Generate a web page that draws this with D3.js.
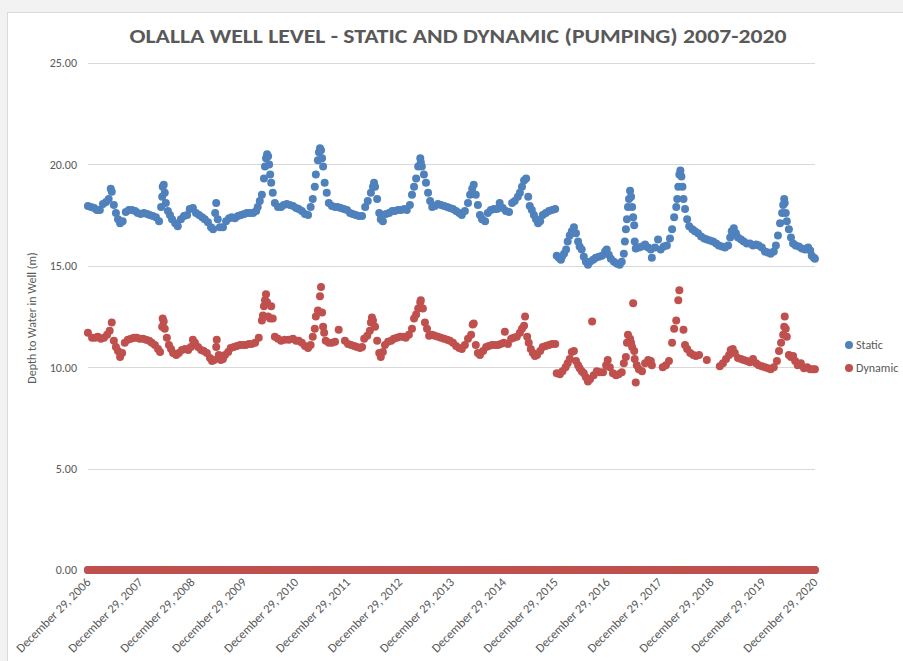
<!DOCTYPE html>
<html>
<head>
<meta charset="utf-8">
<script src="https://cdn.jsdelivr.net/npm/d3@7"></script>
<style>
  body { margin: 0; background: #ffffff; }
  svg { display: block; }
</style>
</head>
<body>
<div id="chart"></div>
<script>
// Olalla well level, static vs dynamic (pumping), depth to water in metres
// dates are decimal years

var staticYears = [2006.99,2007.05,2007.11,2007.16,2007.22,2007.28,2007.34,2007.39,2007.43,2007.45,2007.49,2007.53,2007.57,2007.61,2007.66,2007.72,2007.78,2007.84,2007.90,2007.95,
  2008.01,2008.07,2008.13,2008.18,2008.24,2008.30,2008.36,2008.40,2008.42,2008.43,2008.45,2008.47,2008.49,2008.53,2008.57,2008.61,2008.67,2008.72,2008.78,2008.84,2008.90,2008.95,
  2009.01,2009.07,2009.13,2009.19,2009.24,2009.30,2009.36,2009.40,2009.44,2009.46,2009.49,2009.53,2009.59,2009.65,2009.71,2009.76,2009.82,2009.88,2009.94,
  2010.00,2010.05,2010.11,2010.17,2010.23,2010.26,2010.30,2010.34,2010.38,2010.40,2010.42,2010.44,2010.46,2010.48,2010.50,2010.52,2010.55,2010.59,2010.65,2010.71,2010.76,2010.82,2010.88,2010.94,
  2011.00,2011.05,2011.11,2011.17,2011.23,2011.28,2011.32,2011.36,2011.38,2011.42,2011.44,2011.46,2011.48,2011.50,2011.52,2011.55,2011.59,2011.63,2011.69,2011.75,2011.80,2011.86,2011.92,2011.98,
  2012.04,2012.09,2012.15,2012.21,2012.27,2012.33,2012.38,2012.44,2012.48,2012.50,2012.52,2012.56,2012.60,2012.63,2012.67,2012.73,2012.79,2012.85,2012.90,2012.96,
  2013.02,2013.08,2013.13,2013.19,2013.23,2013.27,2013.31,2013.35,2013.39,2013.40,2013.42,2013.46,2013.50,2013.54,2013.58,2013.62,2013.67,2013.73,2013.79,2013.85,2013.91,2013.96,
  2014.02,2014.08,2014.14,2014.19,2014.25,2014.31,2014.35,2014.39,2014.42,2014.46,2014.50,2014.54,2014.58,2014.64,2014.69,2014.75,2014.81,2014.87,2014.92,2014.98,
  2015.04,2015.10,2015.16,2015.21,2015.27,2015.31,2015.35,2015.39,2015.43,2015.47,2015.50,2015.54,2015.58,2015.62,2015.66,2015.70,2015.75,2015.81,2015.87,2015.93,2015.99,
  2016.02,2016.06,2016.10,2016.12,2016.16,2016.20,2016.23,2016.27,2016.31,2016.35,2016.39,2016.43,2016.46,2016.50,2016.54,2016.58,2016.62,2016.66,2016.72,2016.77,2016.83,2016.89,2016.95,2016.98,
  2017.02,2017.06,2017.12,2017.18,2017.23,2017.27,2017.31,2017.33,2017.35,2017.37,2017.39,2017.41,2017.43,2017.45,2017.47,2017.49,2017.51,2017.52,2017.54,2017.60,2017.66,2017.72,2017.78,2017.83,2017.85,2017.91,2017.97,
  2018.02,2018.08,2018.14,2018.20,2018.24,2018.28,2018.32,2018.34,2018.36,2018.38,2018.40,2018.42,2018.44,2018.46,2018.49,2018.53,2018.57,2018.63,2018.68,2018.74,2018.80,2018.86,2018.91,2018.97,
  2019.03,2019.09,2019.14,2019.20,2019.26,2019.32,2019.36,2019.39,2019.43,2019.47,2019.51,2019.57,2019.62,2019.68,2019.74,2019.80,2019.86,2019.91,2019.97,
  2020.03,2020.09,2020.14,2020.20,2020.24,2020.28,2020.32,2020.36,2020.38,2020.40,2020.41,2020.43,2020.45,2020.49,2020.53,2020.57,2020.62,2020.68,2020.74,2020.80,2020.86,2020.90,2020.93,2020.97,2020.99];

var staticDepth = [17.95,17.9,17.85,17.75,17.75,18.05,18.15,18.3,18.8,18.65,18.0,17.6,17.3,17.1,17.2,17.65,17.75,17.75,17.7,17.6,
  17.55,17.6,17.55,17.5,17.45,17.4,17.2,17.9,18.4,18.9,19.0,18.6,18.1,17.7,17.5,17.3,17.1,16.95,17.3,17.45,17.5,17.8,
  17.85,17.6,17.5,17.4,17.3,17.15,16.9,16.8,17.6,18.1,17.3,16.9,16.9,17.2,17.35,17.4,17.35,17.45,17.5,
  17.55,17.6,17.6,17.6,17.7,17.9,18.2,18.5,19.3,19.9,20.3,20.5,20.4,20.0,19.5,19.1,18.6,18.1,17.9,17.9,18.0,18.05,18.0,17.95,
  17.85,17.8,17.7,17.55,17.5,17.9,18.3,18.9,19.5,20.2,20.6,20.8,20.7,20.3,19.9,19.1,18.6,18.1,17.95,17.9,17.9,17.85,17.8,17.75,
  17.6,17.55,17.5,17.45,17.45,17.9,18.2,18.6,18.9,19.1,18.9,18.3,17.6,17.3,17.2,17.55,17.6,17.7,17.7,17.75,
  17.75,17.8,17.75,18.0,18.5,18.9,19.3,19.9,20.3,20.1,19.9,19.5,19.1,18.6,18.2,17.9,17.95,18.05,18.0,17.95,17.9,17.85,
  17.8,17.7,17.6,17.5,17.7,18.1,18.5,18.8,19.0,18.5,18.0,17.5,17.3,17.2,17.6,17.75,17.8,17.8,18.1,17.85,
  17.7,17.65,18.1,18.2,18.4,18.6,18.9,19.2,19.3,18.4,17.95,17.75,17.5,17.3,17.1,17.2,17.5,17.6,17.7,17.75,17.8,
  15.5,15.4,15.3,15.45,15.6,15.8,16.2,16.5,16.7,16.9,16.6,16.2,15.95,15.8,15.45,15.2,15.05,15.2,15.3,15.4,15.45,15.5,15.7,15.8,
  15.55,15.35,15.2,15.1,15.05,15.2,15.6,16.2,16.8,17.3,17.9,18.3,18.7,18.4,17.9,17.4,17.0,16.2,15.85,15.9,15.95,16.05,15.9,15.8,15.4,15.9,16.3,
  15.8,15.95,16.0,16.35,16.8,17.4,17.9,18.3,18.9,19.5,19.7,19.4,18.9,18.3,17.8,17.3,16.95,16.8,16.7,16.6,16.45,16.35,16.3,16.25,
  16.2,16.1,16.0,15.95,15.9,16.0,16.4,16.7,16.85,16.6,16.4,16.3,16.2,16.1,16.1,16.0,16.05,16.0,15.9,
  15.7,15.65,15.6,15.7,16.0,16.5,17.1,17.6,18.0,18.3,18.1,17.6,17.2,16.8,16.4,16.1,16.0,15.95,15.85,15.8,15.9,15.75,15.5,15.4,15.35];

var dynamicYears = [2006.99,2007.07,2007.13,2007.18,2007.24,2007.30,2007.36,2007.41,2007.45,2007.49,2007.53,2007.57,2007.61,2007.65,2007.70,2007.76,2007.82,2007.88,2007.93,2007.99,
  2008.05,2008.11,2008.17,2008.22,2008.28,2008.34,2008.38,2008.42,2008.43,2008.45,2008.47,2008.51,2008.55,2008.59,2008.63,2008.69,2008.74,2008.80,2008.86,2008.92,2008.97,
  2009.01,2009.05,2009.11,2009.17,2009.22,2009.28,2009.34,2009.38,2009.42,2009.46,2009.47,2009.51,2009.55,2009.59,2009.63,2009.69,2009.74,2009.80,2009.86,2009.92,2009.98,
  2010.03,2010.09,2010.15,2010.21,2010.28,2010.34,2010.36,2010.38,2010.40,2010.42,2010.44,2010.46,2010.50,2010.52,2010.55,2010.59,2010.65,2010.71,2010.78,2010.86,2010.94,
  2011.00,2011.05,2011.11,2011.17,2011.23,2011.28,2011.32,2011.36,2011.38,2011.42,2011.46,2011.48,2011.50,2011.52,2011.54,2011.57,2011.63,2011.69,2011.75,2011.82,2011.94,
  2012.00,2012.06,2012.12,2012.17,2012.23,2012.27,2012.31,2012.37,2012.42,2012.44,2012.46,2012.48,2012.52,2012.56,2012.60,2012.63,2012.67,2012.71,2012.77,2012.83,2012.88,2012.94,
  2013.00,2013.06,2013.11,2013.17,2013.23,2013.27,2013.31,2013.35,2013.39,2013.40,2013.44,2013.48,2013.52,2013.56,2013.62,2013.67,2013.73,2013.79,2013.85,2013.91,2013.96,
  2014.02,2014.08,2014.14,2014.19,2014.25,2014.31,2014.37,2014.40,2014.42,2014.46,2014.50,2014.54,2014.60,2014.66,2014.71,2014.77,2014.83,2014.89,2014.94,
  2015.00,2015.02,2015.08,2015.14,2015.19,2015.25,2015.31,2015.35,2015.39,2015.41,2015.45,2015.48,2015.52,2015.56,2015.60,2015.64,2015.70,2015.75,2015.81,2015.87,2015.93,2015.99,
  2016.02,2016.08,2016.13,2016.19,2016.23,2016.27,2016.31,2016.35,2016.39,2016.43,2016.46,2016.50,2016.54,2016.58,2016.62,2016.66,2016.70,2016.73,2016.79,2016.85,2016.91,2016.97,
  2017.00,2017.04,2017.10,2017.16,2017.21,2017.27,2017.31,2017.35,2017.37,2017.39,2017.43,2017.45,2017.47,2017.49,2017.51,2017.52,2017.54,2017.56,2017.60,2017.66,2017.72,2017.78,2017.83,2017.85,
  2018.06,2018.12,2018.18,2018.24,2018.28,2018.32,2018.36,2018.38,2018.46,2018.49,2018.53,2018.59,2018.65,2018.70,2018.76,2018.91,
  2019.16,2019.22,2019.28,2019.34,2019.37,2019.41,2019.45,2019.51,2019.57,2019.62,2019.68,2019.74,2019.80,2019.86,2019.91,2019.97,
  2020.03,2020.09,2020.14,2020.20,2020.26,2020.30,2020.34,2020.38,2020.40,2020.41,2020.43,2020.45,2020.49,2020.53,2020.57,2020.61,2020.66,2020.72,2020.78,2020.84,2020.90,2020.95,2020.99];

var dynamicDepth = [11.7,11.45,11.45,11.5,11.4,11.45,11.6,11.8,12.2,11.3,11.0,10.8,10.5,10.7,11.2,11.35,11.4,11.45,11.45,11.4,
  11.4,11.35,11.3,11.2,11.1,10.9,10.75,12.0,12.4,12.25,11.9,11.45,11.1,10.9,10.7,10.6,10.7,10.85,10.9,10.85,11.0,
  11.35,11.2,11.0,10.85,10.8,10.7,10.45,10.3,10.35,11.0,11.35,10.6,10.35,10.4,10.6,10.75,10.95,11.0,11.05,11.1,11.1,
  11.1,11.15,11.15,11.2,11.45,12.3,12.55,13.0,13.3,13.6,13.2,12.5,12.4,13.0,12.4,11.5,11.4,11.3,11.35,11.35,11.4,
  11.3,11.3,11.2,11.05,10.95,11.1,11.5,11.9,12.5,12.8,13.5,13.95,12.7,12.0,11.7,11.3,11.2,11.2,11.25,11.85,11.3,
  11.15,11.1,11.05,11.0,10.95,11.0,11.4,11.55,11.8,12.2,12.45,12.3,12.0,11.3,10.7,10.5,10.75,11.1,11.25,11.3,11.4,11.45,
  11.5,11.5,11.45,11.6,11.9,12.4,12.6,12.9,13.2,13.3,12.9,12.2,11.9,11.55,11.6,11.55,11.5,11.45,11.4,11.35,11.3,
  11.2,11.05,10.95,10.9,11.1,11.4,11.6,12.1,12.15,11.1,10.7,10.6,10.8,11.0,11.05,11.1,11.1,11.1,11.15,
  11.2,11.75,11.15,11.4,11.45,11.5,11.7,11.9,12.05,12.5,11.5,11.2,10.9,10.7,10.55,10.6,10.8,11.0,11.05,11.1,11.15,11.15,
  9.7,9.65,9.8,10.0,10.2,10.4,10.75,10.8,10.3,10.1,9.95,9.8,9.7,9.5,9.3,9.4,12.25,9.6,9.8,9.75,9.75,10.1,
  10.35,10.0,9.7,9.6,9.65,9.75,10.2,10.5,11.2,11.6,11.4,11.2,11.0,13.15,10.8,10.4,9.25,10.1,9.9,9.8,10.2,10.35,10.3,10.1,
  10.0,10.1,10.3,11.2,11.9,12.3,13.3,13.8,11.85,11.1,10.9,10.7,10.6,10.55,10.6,10.35,
  10.05,10.2,10.4,10.6,10.85,10.9,10.7,10.45,10.4,10.35,10.3,10.25,10.4,10.2,10.1,10.05,
  10.0,9.95,9.9,10.0,10.3,10.8,11.2,11.6,12.0,12.5,11.9,11.5,10.6,10.5,10.55,10.3,10.1,10.2,9.95,10.0,9.9,9.9,9.9];

var yTicks = [0, 5, 10, 15, 20, 25];
var tickYears = [2006,2007,2008,2009,2010,2011,2012,2013,2014,2015,2016,2017,2018,2019,2020];
var seriesNames = ["Static", "Dynamic"];
var seriesColors = ["#4f81bd", "#c0504d"];

var width = 903, height = 661;
var font = "Carlito, Calibri, Lato, sans-serif";

function yearToDate(y) {
  var yr = Math.floor(y);
  var a = new Date(yr, 0, 1), b = new Date(yr + 1, 0, 1);
  return new Date(+a + (y - yr) * (b - a));
}

var svg = d3.select("#chart").append("svg")
    .attr("width", width)
    .attr("height", height);

svg.append("rect").attr("width", width).attr("height", height).attr("fill", "#f2f2f2");
svg.append("rect")
    .attr("x", 7.5).attr("y", 12.5)
    .attr("width", width).attr("height", height)
    .attr("fill", "#fff").attr("stroke", "#d9d9d9");

var x = d3.scaleTime()
    .domain([new Date(2006, 11, 29), new Date(2020, 11, 29)])
    .range([88, 815]);
var y = d3.scaleLinear().domain([0, 25]).range([570, 63]);

// gridlines
svg.append("g").selectAll("line")
    .data(yTicks).enter().append("line")
    .attr("x1", 88).attr("x2", 815)
    .attr("y1", function(d) { return Math.round(y(d)) + 0.5; })
    .attr("y2", function(d) { return Math.round(y(d)) + 0.5; })
    .attr("stroke", "#d9d9d9");

// y axis labels
var yAxis = d3.axisLeft(y).tickValues(yTicks).tickFormat(d3.format(".2f")).tickSize(0).tickPadding(0);
var gy = svg.append("g").attr("transform", "translate(77,0)").call(yAxis);
gy.select(".domain").remove();
gy.selectAll("text").attr("font-family", font).attr("font-size", 12).attr("fill", "#595959");

// x axis labels
var xAxis = d3.axisBottom(x)
    .tickValues(tickYears.map(function(d) { return new Date(d, 11, 29); }))
    .tickFormat(d3.timeFormat("%B %-d, %Y"))
    .tickSize(0);
var gx = svg.append("g").attr("transform", "translate(0,570)").call(xAxis);
gx.select(".domain").remove();
gx.selectAll("text")
    .attr("font-family", font).attr("font-size", 12.5).attr("fill", "#595959")
    .attr("text-anchor", "end")
    .attr("dy", null).attr("y", 0)
    .attr("transform", "translate(3,13) rotate(-45)");

// points
function plotSeries(years, depth, color) {
  var g = svg.append("g").attr("fill", color);
  g.selectAll("circle.v")
      .data(d3.zip(years, depth)).enter().append("circle")
      .attr("class", "v")
      .attr("cx", function(d) { return x(yearToDate(d[0])); })
      .attr("cy", function(d) { return y(d[1]); })
      .attr("r", 4);
}
// blank readings were logged as 0 for every reading date
function plotZeros(years, color) {
  svg.append("g").attr("fill", color).selectAll("circle")
      .data(years).enter().append("circle")
      .attr("cx", function(d) { return x(yearToDate(d)); })
      .attr("cy", y(0))
      .attr("r", 4);
}
plotSeries(staticYears, staticDepth, seriesColors[0]);
plotZeros(staticYears, seriesColors[0]);
plotSeries(dynamicYears, dynamicDepth, seriesColors[1]);
plotZeros(staticYears, seriesColors[1]);

// title
svg.append("text")
    .attr("x", 458).attr("y", 43)
    .attr("text-anchor", "middle")
    .attr("font-family", font).attr("font-weight", "bold").attr("font-size", 21)
    .attr("fill", "#595959")
    .attr("textLength", 657).attr("lengthAdjust", "spacingAndGlyphs")
    .text("OLALLA WELL LEVEL - STATIC AND DYNAMIC (PUMPING) 2007-2020");

// y axis title
svg.append("text")
    .attr("transform", "translate(36,318) rotate(-90)")
    .attr("text-anchor", "middle")
    .attr("font-family", font).attr("font-size", 12).attr("fill", "#595959")
    .text("Depth to Water in Well (m)");

// legend
var leg = svg.append("g").selectAll("g")
    .data(seriesNames).enter().append("g")
    .attr("transform", function(d, i) { return "translate(849," + (345 + i * 23) + ")"; });
leg.append("circle").attr("r", 4).attr("fill", function(d, i) { return seriesColors[i]; });
leg.append("text")
    .attr("x", 7).attr("dy", "0.35em")
    .attr("font-family", font).attr("font-size", 12).attr("fill", "#595959")
    .text(function(d) { return d; });
</script>
</body>
</html>
